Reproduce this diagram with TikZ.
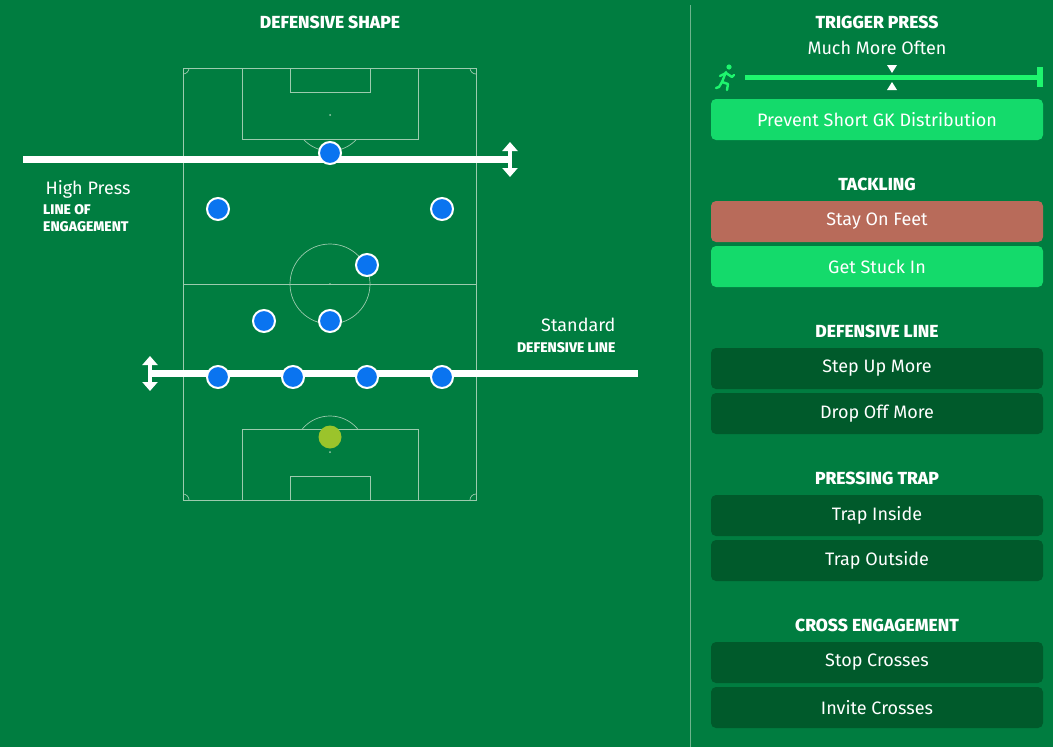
\documentclass[tikz,border=0pt]{standalone}
\usepackage{fontspec}
\setmainfont{Fira Sans}
\newfontfamily\heavy{Fira Sans ExtraBold}
\usetikzlibrary{arrows.meta}
\definecolor{bg}{HTML}{007D40}
\definecolor{pl}{HTML}{0A74F0}
\definecolor{gk}{HTML}{9BC42B}
\definecolor{brt}{HTML}{14DA6B}
\definecolor{slid}{HTML}{1EF56E}
\definecolor{red}{HTML}{B86B5A}
\definecolor{dk}{HTML}{005A2B}
\definecolor{pitchline}{HTML}{9CCBAE}
\tikzset{
 hdr/.style={text=white,font=\fontsize{17.5}{17.5}\selectfont\heavy},
 lbl/.style={text=white,font=\fontsize{18}{18}\selectfont},
 small/.style={text=white,font=\fontsize{14}{17}\selectfont\heavy,align=left},
 btn/.style={rounded corners=5pt,minimum width=332pt,minimum height=41pt,inner sep=0,text=white,font=\fontsize{18}{18}\selectfont},
 plr/.style={circle,fill=pl,draw=white,line width=2pt,minimum size=22pt,inner sep=0},
 pline/.style={draw=pitchline,line width=0.7pt},
 thick line/.style={draw=white,line width=7pt},
 darr/.style={draw=white,line width=3.5pt,{Triangle[length=9pt,width=15pt]}-{Triangle[length=9pt,width=15pt]}}
}
\begin{document}
\begin{tikzpicture}[x=1pt,y=-1pt]
\fill[bg] (0,0) rectangle (1053,747);
\useasboundingbox (0,0) rectangle (1053,747);
% divider
\draw[draw=pitchline!70!bg,line width=1pt] (690,5) -- (690,747);
% pitch
\draw[pline] (183,68) rectangle (476,500);
\draw[pline] (183,284) -- (476,284);
\draw[pline] (330,284) circle (40);
\fill[pitchline] (330,284) circle (1);
\draw[pline] (242,68) rectangle (418,139);
\draw[pline] (290,68) rectangle (370,92);
\fill[pitchline] (330,115) circle (1);
\draw[pline] (242,429) rectangle (418,500);
\draw[pline] (290,476) rectangle (370,500);
\fill[pitchline] (330,452) circle (1);
\begin{scope}
\clip (242,139) rectangle (418,200);
\draw[pline] (330,115) circle (36);
\end{scope}
\begin{scope}
\clip (242,429) rectangle (418,370);
\draw[pline] (330,452) circle (36);
\end{scope}
\begin{scope}
\clip (183,68) rectangle (476,500);
\draw[pline] (183,68) circle (6);
\draw[pline] (476,68) circle (6);
\draw[pline] (183,500) circle (6);
\draw[pline] (476,500) circle (6);
\end{scope}
% lines
\coordinate (hl) at (23,159); \coordinate (hr) at (510,159);
\draw[thick line] (hl) -- (hr);
\coordinate (ht) at (510,142); \coordinate (hb) at (510,177);
\draw[darr] (ht) -- (hb);
\coordinate (sl) at (150,373); \coordinate (sr) at (638,373);
\draw[thick line] (sl) -- (sr);
\coordinate (st) at (150,356); \coordinate (sb) at (150,391);
\draw[darr] (st) -- (sb);
% players
\node[plr] (p1) at (330,153) {};
\node[plr] (p2) at (218,209) {};
\node[plr] (p3) at (442,209) {};
\node[plr] (p4) at (367,265) {};
\node[plr] (p5) at (264,321) {};
\node[plr] (p6) at (330,321) {};
\node[plr] (p7) at (218,377) {};
\node[plr] (p8) at (293,377) {};
\node[plr] (p9) at (367,377) {};
\node[plr] (p10) at (442,377) {};
\node[circle,fill=gk,minimum size=23pt,inner sep=0] (gk) at (330,437) {};
% left labels
\node[hdr] (t1) at (330,22) {DEFENSIVE SHAPE};
\node[lbl,anchor=west] (hp) at (42,189) {High Press};
\node[small,anchor=north west,inner sep=1pt] (loe) at (42,203) {LINE OF\\ENGAGEMENT};
\node[lbl,anchor=east] (stdl) at (619,325) {Standard};
\node[small,anchor=east] (dl) at (619,348) {DEFENSIVE LINE};
% right panel
\node[hdr] (h1) at (877,22) {TRIGGER PRESS};
\node[lbl] (mmo) at (877,48) {Much More Often};
\coordinate (sla) at (745,77); \coordinate (slb) at (1040,77);
\draw[slid,line width=5pt] (sla) -- (slb);
\draw[slid,line width=6pt] (1040,67) -- (1040,87);
\fill[white] (887,65) -- (897,65) -- (892,73) -- cycle;
\fill[white] (887,90) -- (897,90) -- (892,82) -- cycle;
% runner
\begin{scope}[slid,line width=2.4pt,line cap=round,line join=round]
\fill (729,67) circle (2.6);
\draw (726,72) -- (722,82);
\draw (726,73) -- (732,77) -- (734,75);
\draw (726,73) -- (720,76);
\draw (722,82) -- (728,84) -- (727,90);
\draw (722,82) -- (719,87) -- (716,88);
\end{scope}
\node[btn,fill=brt] (b1) at (877,119.5) {Prevent Short GK Distribution};
\node[hdr] (h2) at (877,184) {TACKLING};
\node[btn,fill=red] (b2) at (877,221.5) {Stay On Feet};
\node[btn,fill=brt] (b3) at (877,266.5) {Get Stuck In};
\node[hdr] (h3) at (877,331) {DEFENSIVE LINE};
\node[btn,fill=dk] (b4) at (877,368.5) {Step Up More};
\node[btn,fill=dk] (b5) at (877,413.5) {Drop Off More};
\node[hdr] (h4) at (877,478) {PRESSING TRAP};
\node[btn,fill=dk] (b6) at (877,515.5) {Trap Inside};
\node[btn,fill=dk] (b7) at (877,560.5) {Trap Outside};
\node[hdr] (h5) at (877,625) {CROSS ENGAGEMENT};
\node[btn,fill=dk] (b8) at (877,662.5) {Stop Crosses};
\node[btn,fill=dk] (b9) at (877,707.5) {Invite Crosses};
\end{tikzpicture}
\end{document}
